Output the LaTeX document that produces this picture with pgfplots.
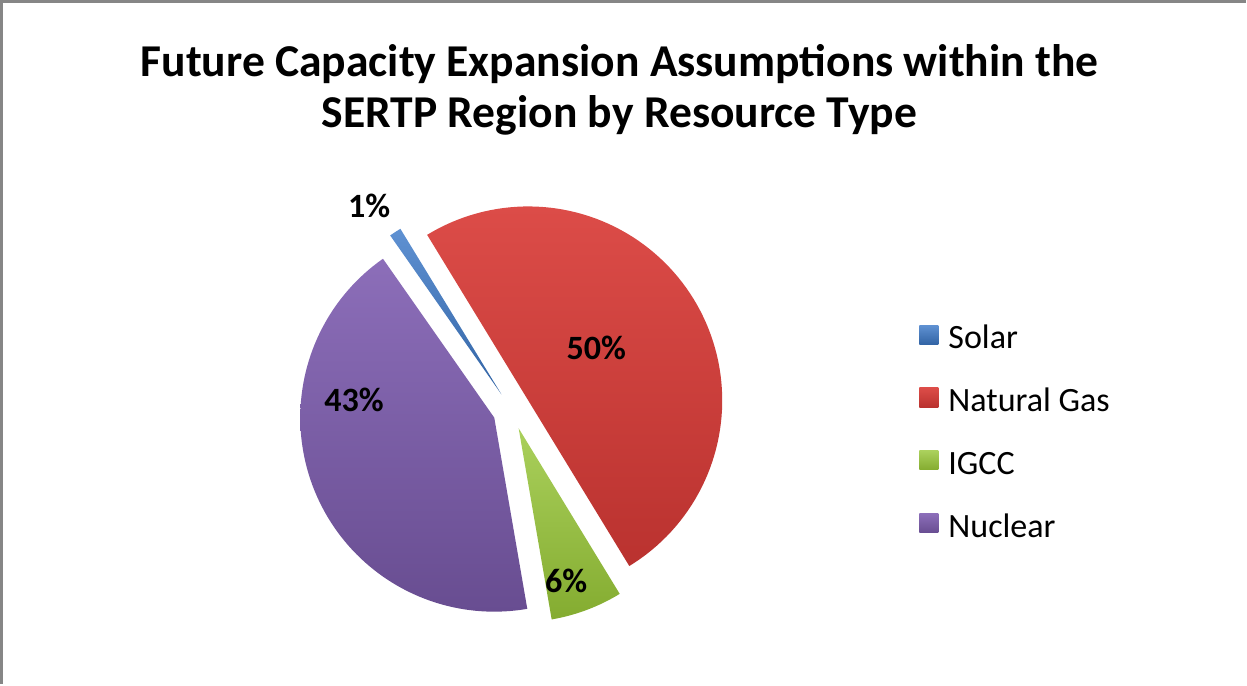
\documentclass[border=0pt]{standalone}
\usepackage{pgfplots}
\pgfplotsset{compat=1.18}
\usepackage{fontspec}
\setmainfont{Carlito}
\definecolor{solarA}{RGB}{95,145,210}
\definecolor{solarB}{RGB}{50,100,165}
\definecolor{gasA}{RGB}{220,76,72}
\definecolor{gasB}{RGB}{186,50,47}
\definecolor{igccA}{RGB}{170,208,92}
\definecolor{igccB}{RGB}{132,172,48}
\definecolor{nucA}{RGB}{140,110,185}
\definecolor{nucB}{RGB}{104,77,145}
\definecolor{framegray}{RGB}{134,134,134}

% data (percent shares)
\def\vSolar{1}
\def\vGas{50}
\def\vIGCC{6}
\def\vNuc{43}

% geometry (pixel units)
\def\cx{517}
\def\cy{272}
\def\r{193}
\def\ex{19}

\pgfmathsetmacro\aS{125}
\pgfmathsetmacro\aG{\aS-3.6*\vSolar}
\pgfmathsetmacro\aI{\aG-3.6*\vGas}
\pgfmathsetmacro\aN{\aI-3.6*\vIGCC}
\pgfmathsetmacro\aE{\aN-3.6*\vNuc}

\newcommand{\slice}[4]{%
  \addplot[#3, draw=none, variable=\t, samples at={-1,0,1,...,90}]
  ({\cx+\ex*cos(((#1)+(#2))/2)+\r*(\t>(-0.5))*cos((#1)+((#2)-(#1))*max(\t,0)/90)},
   {\cy+\ex*sin(((#1)+(#2))/2)+\r*(\t>(-0.5))*sin((#1)+((#2)-(#1))*max(\t,0)/90)});
  \addlegendentry{#4}
}

\begin{document}
\begin{tikzpicture}
\begin{axis}[
  width=1247bp, height=685bp, scale only axis,
  xmin=0, xmax=1247, ymin=0, ymax=685,
  hide axis, clip=false,
  legend image code/.code={\draw[#1, draw=none] (0bp,-7bp) rectangle (19bp,12bp);},
  legend cell align=left,
  legend style={draw=none, fill=none, inner sep=0pt,
    at={(axis cs:922,357)}, anchor=north west,
    font=\fontsize{34}{40}\selectfont,
    row sep=39bp, column sep=10bp,
    nodes={inner sep=0pt, text height=23bp, text depth=0pt}},
]
\draw[framegray, line width=2.5bp] (axis cs:9,0) -- (axis cs:9,679) -- (axis cs:1247,679);

\slice{\aS}{\aG}{top color=solarA, bottom color=solarB}{Solar}
\slice{\aG}{\aI}{top color=gasA, bottom color=gasB}{Natural Gas}
\slice{\aI}{\aN}{top color=igccA, bottom color=igccB}{IGCC}
\slice{\aN}{\aE}{top color=nucA, bottom color=nucB}{Nuclear}

\node[anchor=north, align=center, inner sep=0pt, font=\fontsize{45.5}{51}\selectfont\bfseries]
  at (axis cs:624,636) {Future Capacity Expansion Assumptions within the\\SERTP Region by Resource Type};

\node[font=\fontsize{34}{40}\selectfont\bfseries] at (axis cs:375,475) {1\%};
\node[font=\fontsize{34}{40}\selectfont\bfseries] at (axis cs:601,334) {50\%};
\node[font=\fontsize{34}{40}\selectfont\bfseries] at (axis cs:360,282) {43\%};
\node[font=\fontsize{34}{40}\selectfont\bfseries] at (axis cs:571,102) {6\%};
\end{axis}
\end{tikzpicture}
\end{document}
